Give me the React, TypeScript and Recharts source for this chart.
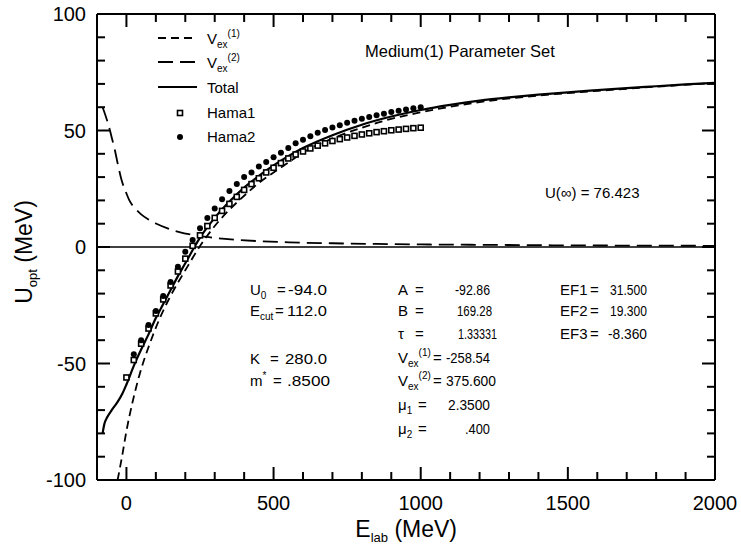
import React from 'react';
import { ComposedChart, Line, Scatter, XAxis, YAxis, ReferenceLine } from 'recharts';

const FONT = '"Liberation Sans", Arial, Helvetica, sans-serif';

// Total optical potential (MeV) vs lab energy
const TOTAL_E = [-81, -75, -65, -50, -30, -14, 0, 25, 50, 75, 100, 125, 150, 175, 200, 231, 250, 300, 350, 400, 450, 500, 550, 600, 700, 800, 900, 1000, 1100, 1200, 1300, 1400, 1500, 1600, 1700, 1800, 1900, 2000];
const TOTAL_U = [-80, -76, -73, -70, -66.5, -63, -59, -51, -44, -37.5, -30.5, -24.5, -18.5, -12.5, -7, 0, 4, 12.5, 19.5, 25.5, 30.5, 35, 39, 42.5, 48, 52.5, 56, 58.8, 61, 62.8, 64.2, 65.4, 66.4, 67.3, 68.2, 69, 69.8, 70.5];

// Vex(1) term (short dashes)
const VEX1_E = [-30, -15, 0, 20, 44, 75, 112, 150, 200, 248, 300, 350, 400, 450, 500, 553, 600, 700, 800, 900, 1000, 1200, 1400, 1600, 1800, 2000];
const VEX1_U = [-100, -90, -79, -67, -55, -43, -31, -21, -10, 0, 9, 16, 22, 27.5, 32, 36.5, 40.5, 46.6, 51.2, 55, 57.8, 62.2, 65, 67, 68.8, 70.4];

// Vex(2) term (long dashes)
const VEX2_E = [-81, -70, -60, -50, -40, -30, -17, 0, 10, 30, 50, 75, 102, 140, 180, 225, 272, 325, 384, 450, 553, 700, 850, 1000, 1250, 1500, 1750, 2000];
const VEX2_U = [60, 56, 52, 47, 42, 36, 29, 23, 20, 16.5, 14, 11.8, 10, 8, 6.4, 5.2, 4.3, 3.6, 3, 2.5, 2, 1.6, 1.3, 1.1, 0.9, 0.7, 0.6, 0.5];

// Hamada fits, sampled every 25 MeV
const HAMA1_E = [0, 25, 50, 75, 100, 125, 150, 175, 200, 225, 250, 275, 300, 325, 350, 375, 400, 425, 450, 475, 500, 525, 550, 575, 600, 625, 650, 675, 700, 725, 750, 775, 800, 825, 850, 875, 900, 925, 950, 975, 1000];
const HAMA1_U = [-56, -48.5, -41.5, -35, -28.5, -22.5, -16.5, -10.5, -5, 0.5, 5, 9, 12.5, 15.5, 18.5, 21.5, 24.5, 27, 29.5, 32, 34, 36, 38, 39.7, 41, 42.3, 43.5, 44.5, 45.5, 46.3, 47, 47.7, 48.3, 48.8, 49.3, 49.7, 50.1, 50.4, 50.7, 51, 51.2];

const HAMA2_E = [25, 50, 75, 100, 125, 150, 175, 200, 225, 250, 275, 300, 325, 350, 375, 400, 425, 450, 475, 500, 525, 550, 575, 600, 625, 650, 675, 700, 725, 750, 775, 800, 825, 850, 875, 900, 925, 950, 975, 1000];
const HAMA2_U = [-46, -40, -33.5, -27.5, -21, -15, -8.5, -2, 3, 8, 12.5, 16.5, 20.5, 24, 27, 30, 32, 34.5, 36.5, 38.5, 40.5, 42.5, 44.5, 46, 47.5, 49, 50.2, 51.3, 52.3, 53.3, 54.2, 55, 55.8, 56.5, 57.2, 57.9, 58.5, 59, 59.5, 60];

// labelled ticks and the unlabelled ones in between
const X_MAJOR = [0, 500, 1000, 1500, 2000];
const X_MINOR = [100, 200, 300, 400, 600, 700, 800, 900, 1100, 1200, 1300, 1400, 1600, 1700, 1800, 1900];
const Y_MAJOR = [-100, -50, 0, 50, 100];
const Y_MINOR = [-90, -80, -70, -60, -40, -30, -20, -10, 10, 20, 30, 40, 60, 70, 80, 90];

const X_DOMAIN: [number, number] = [-100, 2000];
const Y_DOMAIN: [number, number] = [-100, 100];

// chart box and plot frame
const W = 741;
const H = 548;
const FRAME = { left: 97, top: 14, right: 715, bottom: 480 };

const zip = (es: number[], us: number[]) => es.map((e, i) => ({ e, u: us[i] }));

const total = zip(TOTAL_E, TOTAL_U);
const vex1 = zip(VEX1_E, VEX1_U);
const vex2 = zip(VEX2_E, VEX2_U);
const hama1 = zip(HAMA1_E, HAMA1_U);
const hama2 = zip(HAMA2_E, HAMA2_U);

// same linear mapping as the axes, used for the inward tick marks
const sx = (v: number) => FRAME.left + ((v - X_DOMAIN[0]) / (X_DOMAIN[1] - X_DOMAIN[0])) * (FRAME.right - FRAME.left);
const sy = (v: number) => FRAME.bottom - ((v - Y_DOMAIN[0]) / (Y_DOMAIN[1] - Y_DOMAIN[0])) * (FRAME.bottom - FRAME.top);

const SHORT_DASH = '8 5';
const LONG_DASH = '15 7';

const tickText = { fontFamily: FONT, fontSize: 20, fill: '#000' };
const frame = { stroke: '#000', strokeWidth: 2 };

const XLabel = ({ x, y, payload }: any) => (
  <text x={x} y={y + 30} textAnchor="middle" {...tickText}>{payload.value}</text>
);
const YLabel = ({ x, y, payload }: any) => (
  <text x={x - 11} y={y + 7} textAnchor="end" {...tickText}>{payload.value}</text>
);

const SquareMark = (p: any) => (
  <rect x={p.cx - 2.5} y={p.cy - 2.5} width={5} height={5} fill="#fff" stroke="#000" strokeWidth={1.6} />
);
const DotMark = (p: any) => <circle cx={p.cx} cy={p.cy} r={3} fill="#000" />;

const txt = { fontFamily: FONT, fontSize: 15, fill: '#000' };
const sub = { fontSize: 10 };

const Vex = ({ n }: { n: number }) => (
  <>
    <tspan>V</tspan>
    <tspan dy={4} {...sub}>ex</tspan>
    <tspan dy={-11} {...sub}>({n})</tspan>
    <tspan dy={7}> </tspan>
  </>
);

// value text squeezed/stretched to the printed width
const Val = ({ x, y, w, children }: any) => (
  <text x={x} y={y} {...txt} textLength={w} lengthAdjust="spacingAndGlyphs">{children}</text>
);

const Ticks = () => {
  const tl = { stroke: '#000', strokeWidth: 2 };
  const xs = [...X_MAJOR.map((v) => [v, 13]), ...X_MINOR.map((v) => [v, 8])];
  const ys = [...Y_MAJOR.map((v) => [v, 13]), ...Y_MINOR.map((v) => [v, 8])];
  return (
    <g>
      {xs.map(([v, len]) => (
        <g key={`x${v}`}>
          <line x1={sx(v)} x2={sx(v)} y1={FRAME.bottom} y2={FRAME.bottom - len} {...tl} />
          <line x1={sx(v)} x2={sx(v)} y1={FRAME.top} y2={FRAME.top + len} {...tl} />
        </g>
      ))}
      {ys.map(([v, len]) => (
        <g key={`y${v}`}>
          <line x1={FRAME.left} x2={FRAME.left + len} y1={sy(v)} y2={sy(v)} {...tl} />
          <line x1={FRAME.right} x2={FRAME.right - len} y1={sy(v)} y2={sy(v)} {...tl} />
        </g>
      ))}
    </g>
  );
};

export default function App() {
  return (
    <div style={{ position: 'absolute', left: 0, top: 0, width: W, height: H, background: '#fff' }}>
      <ComposedChart width={W} height={H} margin={{ top: 0, right: 0, bottom: 0, left: 0 }}>
        <XAxis
          xAxisId="b"
          dataKey="e"
          type="number"
          domain={X_DOMAIN}
          allowDataOverflow
          ticks={X_MAJOR}
          interval={0}
          height={H - FRAME.bottom}
          tickSize={0}
          tickMargin={0}
          tickLine={false}
          tick={XLabel}
          axisLine={frame}
        />
        <XAxis xAxisId="t" orientation="top" type="number" domain={X_DOMAIN} allowDataOverflow height={FRAME.top} tick={false} tickLine={false} axisLine={frame} />
        <YAxis
          yAxisId="l"
          dataKey="u"
          type="number"
          domain={Y_DOMAIN}
          allowDataOverflow
          ticks={Y_MAJOR}
          interval={0}
          width={FRAME.left}
          tickSize={0}
          tickMargin={0}
          tickLine={false}
          tick={YLabel}
          axisLine={frame}
        />
        <YAxis yAxisId="r" orientation="right" type="number" domain={Y_DOMAIN} allowDataOverflow width={W - FRAME.right} tick={false} tickLine={false} axisLine={frame} />

        <ReferenceLine xAxisId="b" yAxisId="l" y={0} stroke="#000" strokeWidth={1.6} />
        <Line xAxisId="b" yAxisId="l" data={vex2} dataKey="u" type="monotone" stroke="#000" strokeWidth={1.8} strokeDasharray={LONG_DASH} dot={false} isAnimationActive={false} />
        <Line xAxisId="b" yAxisId="l" data={vex1} dataKey="u" type="monotone" stroke="#000" strokeWidth={1.8} strokeDasharray={SHORT_DASH} dot={false} isAnimationActive={false} />
        <Line xAxisId="b" yAxisId="l" data={total} dataKey="u" type="monotone" stroke="#000" strokeWidth={2.2} dot={false} isAnimationActive={false} />
        <Scatter xAxisId="b" yAxisId="l" data={hama1} dataKey="u" shape={SquareMark} isAnimationActive={false} />
        <Scatter xAxisId="b" yAxisId="l" data={hama2} dataKey="u" shape={DotMark} isAnimationActive={false} />
      </ComposedChart>

      <svg width={W} height={H} style={{ position: 'absolute', left: 0, top: 0, pointerEvents: 'none' }}>
        <Ticks />

        {/* legend */}
        <line x1={158} x2={197} y1={38} y2={38} stroke="#000" strokeWidth={1.8} strokeDasharray={SHORT_DASH} />
        <line x1={158} x2={197} y1={62} y2={62} stroke="#000" strokeWidth={1.8} strokeDasharray={LONG_DASH} />
        <line x1={158} x2={197} y1={87} y2={87} stroke="#000" strokeWidth={2.2} />
        <SquareMark cx={180} cy={113} />
        <DotMark cx={180} cy={137} />
        <text x={207} y={44} {...txt}><Vex n={1} /></text>
        <text x={207} y={68} {...txt}><Vex n={2} /></text>
        <text x={207} y={93} {...txt}>Total</text>
        <text x={207} y={118} {...txt}>Hama1</text>
        <text x={207} y={142} {...txt}>Hama2</text>

        <text x={365} y={57} {...txt} fontSize={16.5}>Medium(1) Parameter Set</text>
        <text x={545} y={198} {...txt}>U(∞) = 76.423</text>

        {/* parameter block */}
        <text x={250} y={295} {...txt}>U<tspan dy={4} {...sub}>0</tspan></text>
        <text x={277} y={295} {...txt}>=</text>
        <Val x={288} y={295} w={39}>-94.0</Val>
        <text x={250} y={316} {...txt}>E<tspan dy={4} {...sub}>cut</tspan></text>
        <text x={275} y={316} {...txt}>=</text>
        <Val x={287} y={316} w={40}>112.0</Val>
        <text x={250} y={364} {...txt}>K</text>
        <text x={270} y={364} {...txt}>=</text>
        <Val x={285} y={364} w={42}>280.0</Val>
        <text x={250} y={386} {...txt}>m<tspan dy={-7} {...sub}>*</tspan></text>
        <text x={273} y={386} {...txt}>=</text>
        <Val x={287} y={386} w={43}>.8500</Val>

        <text x={398} y={295} {...txt}>A</text>
        <text x={415} y={295} {...txt}>=</text>
        <Val x={455} y={295} w={35}>-92.86</Val>
        <text x={398} y={316} {...txt}>B</text>
        <text x={415} y={316} {...txt}>=</text>
        <Val x={457} y={316} w={35}>169.28</Val>
        <text x={398} y={339} {...txt}>τ</text>
        <text x={415} y={339} {...txt}>=</text>
        <Val x={458} y={339} w={39}>1.33331</Val>
        <text x={398} y={363} {...txt}><Vex n={1} /></text>
        <text x={433} y={363} {...txt}>=</text>
        <Val x={446} y={363} w={44}>-258.54</Val>
        <text x={398} y={386} {...txt}><Vex n={2} /></text>
        <text x={433} y={386} {...txt}>=</text>
        <Val x={446} y={386} w={50}>375.600</Val>
        <text x={398} y={410} {...txt}>μ<tspan dy={4} {...sub}>1</tspan></text>
        <text x={418} y={410} {...txt}>=</text>
        <Val x={448} y={410} w={42}>2.3500</Val>
        <text x={398} y={434} {...txt}>μ<tspan dy={4} {...sub}>2</tspan></text>
        <text x={418} y={434} {...txt}>=</text>
        <Val x={465} y={434} w={25}>.400</Val>

        <text x={560} y={295} {...txt}>EF1</text>
        <text x={590} y={295} {...txt}>=</text>
        <Val x={610} y={295} w={37}>31.500</Val>
        <text x={560} y={316} {...txt}>EF2</text>
        <text x={590} y={316} {...txt}>=</text>
        <Val x={610} y={316} w={37}>19.300</Val>
        <text x={560} y={339} {...txt}>EF3</text>
        <text x={590} y={339} {...txt}>=</text>
        <Val x={608} y={339} w={39}>-8.360</Val>

        {/* axis titles */}
        <text x={457} y={537} textAnchor="end" fontFamily={FONT} fontSize={23}>E<tspan dy={5} fontSize={13}>lab</tspan><tspan dy={-5}> (MeV)</tspan></text>
        <text transform="translate(32,252) rotate(-90)" textAnchor="middle" fontFamily={FONT} fontSize={23}>U<tspan dy={5} fontSize={13}>opt</tspan><tspan dy={-5}> (MeV)</tspan></text>
      </svg>
    </div>
  );
}
